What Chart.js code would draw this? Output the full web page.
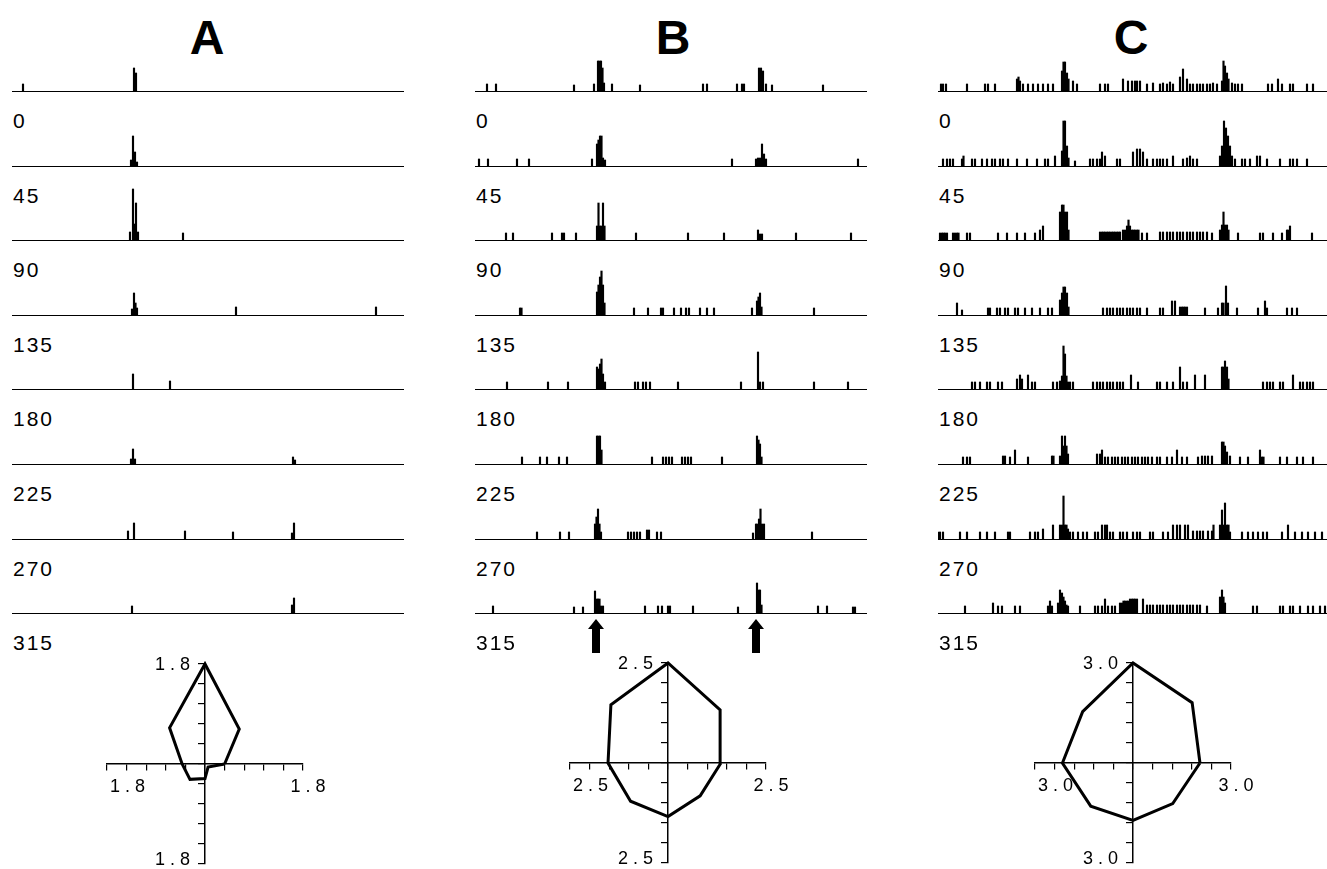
<!DOCTYPE html>
<html>
<head>
<meta charset="utf-8">
<script src="https://cdn.jsdelivr.net/npm/chart.js@4.4.1/dist/chart.umd.min.js"></script>
<style>
  body { margin: 0; background: #fff; overflow: hidden; }
  #page { position: relative; width: 1327px; height: 869px; }
  canvas { position: absolute; }
  .title { position: absolute; width: 100px; text-align: center; font: bold 48px "Liberation Sans", Arial, sans-serif; line-height: 48px; }
  .angle { position: absolute; font: 21px "Liberation Sans", Arial, sans-serif; line-height: 21px; letter-spacing: 2px; }
</style>
</head>
<body>
<div id="page"></div>
<script>
// column titles and stimulus directions
const columnTitles = ['A', 'B', 'C']
const angleLabels = ['0', '45', '90', '135', '180', '225', '270', '315']

// spikes: [time, count]
const spikesA1 = [[11,7],[122,23],[124,18]]
const spikesA2 = [[119,6],[121,30],[123,14],[125,4]]
const spikesA3 = [[118,8],[121,51],[122.5,16],[124,37],[126,8],[171,7]]
const spikesA4 = [[120,6],[122,22],[123.5,12],[125,7],[224,8],[364,8]]
const spikesA5 = [[121,15],[158,8]]
const spikesA6 = [[119,5],[121,15],[123,5],[281,7],[283,4]]
const spikesA7 = [[116,8],[122,16],[173,8],[221,7],[280,6],[282,16]]
const spikesA8 = [[120,7],[280,8],[282,15]]

const spikesB1 = [[12,7],[21,7],[99,6],[119,7],[123,30],[124.5,30],[126,30],[127.5,23],[129,8],[137,7],[165,6],[228,7],[232,7],[262,7],[267,7],[269,7],[284,23],[286,23],[288,20],[291,7],[297,6],[348,6]]
const spikesB2 = [[4,7],[13,7],[42,7],[54,7],[117,7],[122,22],[123.5,26],[125,30],[126.5,30],[128,8],[130,6],[257,7],[281,7],[283,8],[285,8],[287,22],[289,12],[291,7],[383,7]]
const spikesB3 = [[31,7],[38,7],[77,7],[87,7],[89,7],[101,7],[122,14],[123.5,37],[125,14],[126.5,14],[128,37],[129.5,14],[161,7],[213,7],[249,7],[283,10],[285,6],[287,6],[321,7],[376,7]]
const spikesB4 = [[45,7],[46.5,7],[122,23],[123.5,30],[125,38],[126.5,44],[128,30],[129.5,12],[159,7],[173,7],[186,7],[188,7],[199,7],[206,7],[211,7],[214,7],[225,7],[232,7],[239,7],[277,7],[282,14],[283.5,18],[285,22],[286.5,8],[339,7]]
const spikesB5 = [[32,7],[73,7],[93,7],[122,22],[123.5,20],[125,25],[126.5,30],[128,15],[130,7],[160,7],[163,7],[168,7],[171,7],[175,7],[203,7],[266,7],[283,37],[285,7],[288,7],[339,7],[373,7]]
const spikesB6 = [[47,7],[65,7],[72,7],[84,7],[92,7],[122,28],[123.5,28],[125,28],[126.5,14],[177,7],[188,7],[191,7],[194,7],[197,7],[207,7],[210,7],[213,7],[216,7],[247,7],[282,28],[283.5,24],[285,20],[286.5,7]]
const spikesB7 = [[62,7],[85,7],[94,7],[120,15],[121.5,22],[123,30],[124.5,15],[126,7],[153,7],[156,7],[159,7],[162,7],[165,7],[172,9],[174,9],[182,7],[186,7],[278,6],[281,15],[282.5,15],[284,20],[285.5,30],[287,15],[289,15],[337,7]]
const spikesB8 = [[18,7],[99,6],[108,6],[120,22],[121.5,14],[123,14],[124.5,14],[126,7],[128,7],[170,7],[183,7],[187,7],[193,7],[195,7],[218,7],[263,6],[282,30],[283.5,23],[285,23],[286.5,8],[343,7],[352,7],[378,6],[380,6]]

const spikesC1 = [[3,7],[5,7],[8,7],[29,7],[47,7],[50,7],[57,7],[79,12],[80.5,14],[82,10],[85,7],[90,7],[95,7],[100,7],[105,7],[110,7],[115,7],[124,20],[125.5,29],[127,29],[129,18],[130.5,12],[135,10],[139,7],[162,7],[167,7],[170,7],[185,12],[190,10],[194,10],[197,10],[199,10],[202,10],[209,7],[215,8],[222,7],[225,8],[229,7],[232,9],[235,7],[242,14],[245,22],[249,12],[252,7],[255,7],[259,7],[262,7],[265,7],[269,7],[272,7],[275,8],[279,7],[284,10],[285.5,30],[287,25],[289,18],[290.5,12],[294,8],[297,7],[300,7],[304,7],[330,7],[334,7],[340,12],[344,7],[352,7],[355,7],[369,7],[375,7]]
const spikesC2 = [[5,7],[9,7],[12,7],[15,7],[24,7],[25.5,10],[34,7],[37,7],[44,7],[49,7],[54,7],[57,7],[62,7],[65,7],[70,7],[79,7],[89,7],[99,7],[107,7],[110,7],[117,10],[124,15],[125.5,45],[127,45],[129,20],[130.5,8],[137,5],[152,7],[155,7],[159,7],[162,7],[164,14],[167,10],[179,7],[182,7],[195,14],[199,17],[202,17],[205,14],[209,7],[215,7],[219,7],[222,7],[225,7],[229,7],[235,10],[245,7],[249,8],[252,10],[255,7],[259,7],[282,10],[284,20],[286,45],[288,38],[290,30],[292,20],[294,10],[297,7],[304,7],[307,7],[312,7],[319,10],[322,10],[329,7],[342,7],[352,7],[355,7],[359,7],[369,7]]
const spikesC3 = [[2,7],[4,7],[5.5,7],[7,7],[9,7],[15,7],[17,7],[19,7],[20.5,7],[29,7],[32,7],[60,7],[69,7],[79,7],[87,7],[97,7],[102,10],[105,14],[122,28],[124,35],[125.5,35],[127,28],[129,28],[130.5,10],[162,8],[164,8],[165.5,8],[167,8],[169,8],[170.5,8],[172,8],[174,8],[175.5,8],[177,8],[179,8],[180.5,8],[182,8],[185,10],[187,10],[189,14],[190.5,20],[192,14],[194,10],[195.5,10],[197,10],[199,10],[200.5,10],[204,7],[209,7],[222,8],[225,8],[229,8],[232,8],[235,8],[239,8],[242,8],[245,8],[249,8],[252,8],[255,8],[259,8],[262,8],[265,8],[269,8],[274,7],[282,10],[284,15],[285.5,28],[287,15],[289,15],[290.5,10],[300,7],[322,7],[325,7],[335,7],[344,7],[349,10],[350.5,10],[352,14],[374,7]]
const spikesC4 = [[19,12],[24,5],[50,7],[52,7],[59,7],[62,7],[67,7],[70,7],[77,7],[80,7],[87,7],[94,7],[102,7],[110,7],[114,7],[122,15],[124,22],[125.5,28],[127,28],[129,22],[130.5,8],[165,7],[169,7],[172,7],[175,7],[179,7],[182,7],[185,7],[189,7],[192,7],[195,7],[199,7],[202,7],[209,7],[222,7],[225,7],[234,14],[237,14],[242,8],[244,8],[245.5,8],[247,8],[249,8],[267,7],[280,7],[284,12],[285.5,12],[288,29],[290,12],[299,7],[320,7],[327,14],[329,7],[349,7],[354,7],[359,7]]
const spikesC5 = [[34,7],[37,7],[42,7],[49,7],[52,7],[60,7],[64,7],[79,10],[82,14],[84,10],[90,14],[94,7],[97,7],[115,7],[119,7],[122,8],[124,13],[125.5,43],[127,35],[128.5,13],[130,7],[132,7],[135,7],[155,7],[159,7],[162,7],[165,7],[169,7],[172,7],[175,7],[179,7],[182,7],[185,7],[193,14],[200,7],[219,7],[222,7],[229,7],[235,7],[242,22],[245,7],[249,7],[257,14],[267,14],[284,22],[285.5,22],[287,28],[289,22],[290.5,10],[325,7],[329,7],[332,7],[335,7],[342,7],[345,7],[355,14],[362,7],[365,7],[369,7],[372,7],[375,7]]
const spikesC6 = [[25,7],[29,7],[32,7],[65,8],[67,8],[72,7],[77,14],[90,7],[114,8],[115.5,8],[122,8],[124,28],[125.5,18],[127,28],[128.5,18],[130,10],[159,10],[162,10],[164,14],[167,7],[170,7],[174,7],[177,7],[180,7],[184,7],[187,7],[190,7],[194,7],[197,7],[200,7],[204,7],[207,7],[210,7],[214,7],[219,7],[222,7],[229,7],[234,7],[239,14],[244,7],[249,7],[260,7],[264,8],[267,8],[270,8],[274,8],[284,22],[285.5,22],[287,18],[289,12],[292,8],[302,7],[310,7],[322,14],[324,7],[325.5,7],[342,7],[349,7],[359,7],[365,7],[375,7]]
const spikesC7 = [[0,7],[2,7],[5,7],[22,7],[29,7],[42,7],[49,7],[57,7],[70,7],[72,7],[92,7],[97,7],[100,7],[105,10],[115,14],[122,14],[124,14],[125.5,43],[127,14],[128.5,14],[130,10],[132,7],[135,7],[140,7],[145,7],[149,7],[157,7],[160,7],[164,14],[167,14],[169,14],[172,7],[175,7],[182,7],[185,7],[189,7],[195,7],[199,7],[202,7],[212,7],[215,7],[225,7],[230,7],[235,14],[239,14],[242,14],[247,14],[250,14],[255,8],[259,8],[262,8],[265,8],[270,8],[274,8],[275.5,14],[282,14],[284,29],[285.5,14],[287,36],[289,14],[290.5,14],[292,7],[304,7],[310,7],[315,7],[320,7],[325,7],[329,7],[344,7],[350,14],[357,7],[364,7],[370,7],[377,7],[384,7]]
const spikesC8 = [[27,7],[55,10],[60,7],[64,7],[77,7],[82,7],[110,7],[112,12],[114,7],[120,10],[122,23],[124,20],[125.5,16],[127,12],[128.5,8],[130,7],[142,7],[157,7],[160,7],[164,7],[167,14],[170,7],[174,7],[177,7],[182,10],[184,10],[185.5,12],[187,12],[189,12],[190.5,12],[192,14],[194,14],[195.5,14],[197,14],[199,14],[205,14],[209,8],[212,8],[215,8],[219,8],[222,8],[225,8],[229,8],[232,8],[235,8],[239,8],[242,8],[245,8],[249,8],[252,8],[255,8],[259,8],[262,8],[269,7],[282,16],[284,23],[285.5,16],[287,10],[315,7],[319,7],[342,7],[345,7],[352,7],[355,7],[362,7],[370,7],[375,7],[382,7],[387,7]]

// arrows under the last B histogram
const arrowMarks = [121, 281]

// polar plots: response per direction
const polarAngles = [0, 45, 90, 135, 180, 225, 270, 315]
const polarMax = [1.8, 2.5, 3.0]
const polarA = [0.36, 0.89, 1.8, 0.92, 0.42, 0.39, 0.26, 0.08]
const polarB = [1.35, 1.88, 2.5, 2.06, 1.53, 1.35, 1.34, 1.16]
const polarC = [2.05, 2.56, 3.0, 2.18, 2.16, 1.83, 1.72, 1.72]

const histRows = [
    [spikesA1, spikesA2, spikesA3, spikesA4, spikesA5, spikesA6, spikesA7, spikesA8],
    [spikesB1, spikesB2, spikesB3, spikesB4, spikesB5, spikesB6, spikesB7, spikesB8],
    [spikesC1, spikesC2, spikesC3, spikesC4, spikesC5, spikesC6, spikesC7, spikesC8]
]
const polarData = [polarA, polarB, polarC]

const page = document.getElementById('page')
const colLeft = [12, 475, 938]
const titleCenter = [207, 673, 1131]
const polarCenter = [[205, 764], [668, 763], [1133, 763]]
const histWidth = 392
const histHeight = 60

function addCanvas(left, top, width, height) {
    const c = document.createElement('canvas')
    c.width = width
    c.height = height
    c.style.left = left + 'px'
    c.style.top = top + 'px'
    page.appendChild(c)
    return c
}

function addText(cls, text, left, top) {
    const d = document.createElement('div')
    d.className = cls
    d.textContent = text
    d.style.left = left + 'px'
    d.style.top = top + 'px'
    page.appendChild(d)
}

const arrowPlugin = {
    id: 'arrows',
    afterDraw(chart) {
        const {ctx, chartArea} = chart
        const x = chart.scales.x
        ctx.save()
        ctx.fillStyle = '#000'
        arrowMarks.forEach(t => {
            const px = x.getPixelForValue(t)
            const top = chartArea.bottom + 6
            ctx.beginPath()
            ctx.moveTo(px, top)
            ctx.lineTo(px + 8, top + 10)
            ctx.lineTo(px + 4, top + 10)
            ctx.lineTo(px + 4, top + 34)
            ctx.lineTo(px - 4, top + 34)
            ctx.lineTo(px - 4, top + 10)
            ctx.lineTo(px - 8, top + 10)
            ctx.closePath()
            ctx.fill()
        })
        ctx.restore()
    }
}

function histChart(canvas, spikes, extra) {
    new Chart(canvas, {
        type: 'bar',
        data: {
            datasets: [{
                data: spikes.map(s => ({x: s[0], y: s[1]})),
                backgroundColor: '#000',
                borderWidth: 0,
                barThickness: 1.5
            }]
        },
        options: {
            responsive: false,
            animation: false,
            events: [],
            layout: {padding: {left: 0, right: 0, top: 0, bottom: extra ? 41 : 1}},
            plugins: {legend: {display: false}, tooltip: {enabled: false}},
            scales: {
                x: {
                    type: 'linear', min: 0, max: histWidth, offset: false,
                    ticks: {display: false},
                    grid: {display: false, drawTicks: false},
                    border: {display: true, color: '#000', width: 1},
                    afterFit: s => { s.height = 0 }
                },
                y: {display: false, min: 0, max: histHeight}
            }
        },
        plugins: extra ? [extra] : []
    })
}

const polarLabels = {
    id: 'polarLabels',
    afterDraw(chart, args, opts) {
        const {ctx} = chart
        const {x, y} = chart.scales
        const txt = opts.max.toFixed(1).split('').join(' ')
        const ax = x.getPixelForValue(0)
        const ay = y.getPixelForValue(0)
        ctx.save()
        ctx.fillStyle = '#000'
        ctx.font = '18px "Liberation Sans", Arial, sans-serif'
        ctx.textBaseline = 'middle'
        ctx.textAlign = 'right'
        ctx.fillText(txt, ax - 15, y.getPixelForValue(opts.max) + 1)
        ctx.fillText(txt, ax - 15, y.getPixelForValue(-opts.max) - 4)
        ctx.textAlign = 'left'
        ctx.fillText(txt, x.getPixelForValue(-opts.max) + 3, ay + 23)
        ctx.textAlign = 'center'
        ctx.fillText(txt, x.getPixelForValue(opts.max) + 5, ay + 23)
        ctx.restore()
    }
}

function polarChart(canvas, R, radii) {
    const pts = radii.map((r, i) => ({
        x: r * Math.cos(polarAngles[i] * Math.PI / 180),
        y: r * Math.sin(polarAngles[i] * Math.PI / 180)
    }))
    pts.push(pts[0])
    const axisGrid = {drawOnChartArea: false, drawTicks: true, tickLength: 6, color: '#000', lineWidth: 1.2}
    new Chart(canvas, {
        type: 'scatter',
        data: {
            datasets: [{
                data: pts, showLine: true, borderColor: '#000', borderWidth: 3,
                pointRadius: 0, fill: false, tension: 0, clip: false
            }]
        },
        options: {
            responsive: false,
            animation: false,
            events: [],
            layout: {padding: {left: 45, right: 45, top: 20, bottom: 20}},
            plugins: {legend: {display: false}, tooltip: {enabled: false}, polarLabels: {max: R}},
            scales: {
                x: {
                    type: 'linear', min: -R, max: R, position: {y: 0},
                    ticks: {display: false, stepSize: R / 5},
                    grid: axisGrid,
                    border: {color: '#000', width: 1.5},
                    afterFit: s => { s.height = 0 }
                },
                y: {
                    type: 'linear', min: -R, max: R, position: {x: 0},
                    ticks: {display: false, stepSize: R / 5},
                    grid: axisGrid,
                    border: {color: '#000', width: 1.5},
                    afterFit: s => { s.width = 0 }
                }
            }
        },
        plugins: [polarLabels]
    })
}

columnTitles.forEach((t, c) => {
    addText('title', t, titleCenter[c] - 50, 14)
    histRows[c].forEach((spikes, r) => {
        const base = Math.round(91 + r * 74.6)
        const last = c === 1 && r === 7
        const canvas = addCanvas(colLeft[c], base - histHeight, histWidth, histHeight + (last ? 41 : 1))
        histChart(canvas, spikes, last ? arrowPlugin : null)
        addText('angle', angleLabels[r], colLeft[c] + 1, base + 19)
    })
    const [cx, cy] = polarCenter[c]
    const pc = addCanvas(cx - 98 - 45, cy - 100 - 20, 196 + 90, 200 + 40)
    polarChart(pc, polarMax[c], polarData[c])
})
</script>
</body>
</html>
